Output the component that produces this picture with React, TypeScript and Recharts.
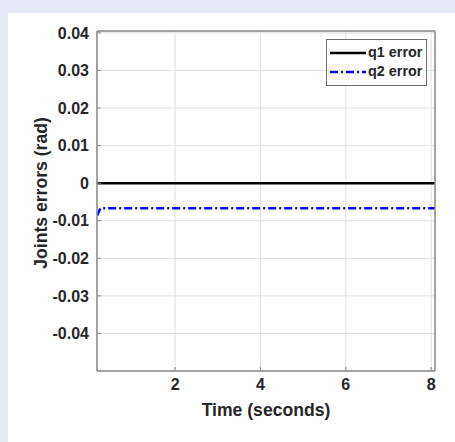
import React from 'react';
import {
  LineChart,
  Line,
  XAxis,
  YAxis,
  CartesianGrid,
  Legend,
} from 'recharts';

// time samples (s) and joint errors (rad)
const TIME = [0.17, 0.25, 8.09];
const Q1_ERROR = [0, 0, 0];
const Q2_ERROR = [-0.0087, -0.0067, -0.0067];

const X_TICKS = [2, 4, 6, 8];
const Y_TICKS = [-0.04, -0.03, -0.02, -0.01, 0, 0.01, 0.02, 0.03, 0.04];
const X_DOMAIN = [0.17, 8.09];
const Y_DOMAIN = [-0.05, 0.0405];

const SERIES = [
  { key: 'q1', name: 'q1 error', color: '#000000', dash: undefined },
  { key: 'q2', name: 'q2 error', color: '#0000ff', dash: '8 3 2 3' },
];

const chartData = TIME.map((t, i) => ({ t, q1: Q1_ERROR[i], q2: Q2_ERROR[i] }));

const FONT = '"Liberation Sans", Arial, sans-serif';
const AXIS_COLOR = '#8a8a8a';
const TEXT_COLOR = '#262626';
const tickStyle = { fill: TEXT_COLOR, fontSize: 16, fontWeight: 700, fontFamily: FONT };

const LegendBox = () => (
  <div
    style={{
      width: 101,
      height: 47,
      boxSizing: 'border-box',
      border: '1px solid #6e6e6e',
      background: '#fff',
      fontFamily: FONT,
      fontWeight: 700,
      fontSize: 14.4,
      color: TEXT_COLOR,
      position: 'relative',
    }}
  >
    {SERIES.map((s, i) => (
      <div
        key={s.key}
        style={{ position: 'absolute', left: 3, top: 3 + i * 19, height: 19, display: 'flex', alignItems: 'center' }}
      >
        <svg width={36} height={6}>
          <line x1={0} y1={3} x2={36} y2={3} stroke={s.color} strokeWidth={2.5} strokeDasharray={s.dash} />
        </svg>
        <span style={{ marginLeft: 2, lineHeight: '19px' }}>{s.name}</span>
      </div>
    ))}
  </div>
);

const YLabel = ({ viewBox }: any) => {
  const cx = 33;
  const cy = viewBox.y + viewBox.height / 2 - 8;
  return (
    <text
      x={cx}
      y={cy}
      transform={`rotate(-90 ${cx} ${cy})`}
      textAnchor="middle"
      dy="0.35em"
      style={{ fill: TEXT_COLOR, fontSize: 17.6, fontWeight: 700, fontFamily: FONT }}
    >
      Joints errors (rad)
    </text>
  );
};

export default function App() {
  return (
    <div style={{ position: 'fixed', left: 0, top: 0, width: 455, height: 442, background: '#e6eaf6' }}>
      <div style={{ position: 'absolute', left: 8, top: 13, width: 447, height: 429, background: '#ffffff' }}>
        <LineChart width={447} height={429} data={chartData} margin={{ top: 0, right: 0, bottom: 0, left: 0 }}>
          <CartesianGrid stroke="#e0e0e0" strokeWidth={1} />
          <XAxis
            dataKey="t"
            type="number"
            domain={X_DOMAIN}
            ticks={X_TICKS}
            allowDataOverflow
            height={71}
            axisLine={{ stroke: AXIS_COLOR, strokeWidth: 1.5 }}
            tickLine={{ stroke: AXIS_COLOR }}
            tickSize={-4}
            tickMargin={12}
            tick={tickStyle}
            label={{
              value: 'Time (seconds)',
              position: 'insideBottom',
              offset: 26,
              style: { fill: TEXT_COLOR, fontSize: 17.6, fontWeight: 700, fontFamily: FONT },
            }}
          />
          <XAxis
            xAxisId="top"
            orientation="top"
            dataKey="t"
            type="number"
            domain={X_DOMAIN}
            ticks={X_TICKS}
            allowDataOverflow
            height={18}
            axisLine={{ stroke: AXIS_COLOR, strokeWidth: 1.5 }}
            tickLine={{ stroke: AXIS_COLOR }}
            tickSize={-4}
            tick={false}
          />
          <YAxis
            type="number"
            domain={Y_DOMAIN}
            ticks={Y_TICKS}
            allowDataOverflow
            width={89}
            axisLine={{ stroke: AXIS_COLOR, strokeWidth: 1.5 }}
            tickLine={{ stroke: AXIS_COLOR }}
            tickSize={-4}
            tickMargin={12}
            tick={tickStyle}
            label={<YLabel />}
          />
          <YAxis
            yAxisId="right"
            orientation="right"
            type="number"
            domain={Y_DOMAIN}
            ticks={Y_TICKS}
            allowDataOverflow
            width={20}
            axisLine={{ stroke: AXIS_COLOR, strokeWidth: 1.5 }}
            tickLine={{ stroke: AXIS_COLOR }}
            tickSize={-4}
            tick={false}
          />
          {SERIES.map((s) => (
            <Line
              key={s.key}
              dataKey={s.key}
              name={s.name}
              type="linear"
              stroke={s.color}
              strokeWidth={2.5}
              strokeDasharray={s.dash}
              dot={false}
              isAnimationActive={false}
            />
          ))}
          <Legend
            layout="horizontal"
            align="center"
            verticalAlign="middle"
            content={<LegendBox />}
            wrapperStyle={{ left: 318, top: 26, width: 101, height: 47 }}
          />
        </LineChart>
      </div>
    </div>
  );
}
